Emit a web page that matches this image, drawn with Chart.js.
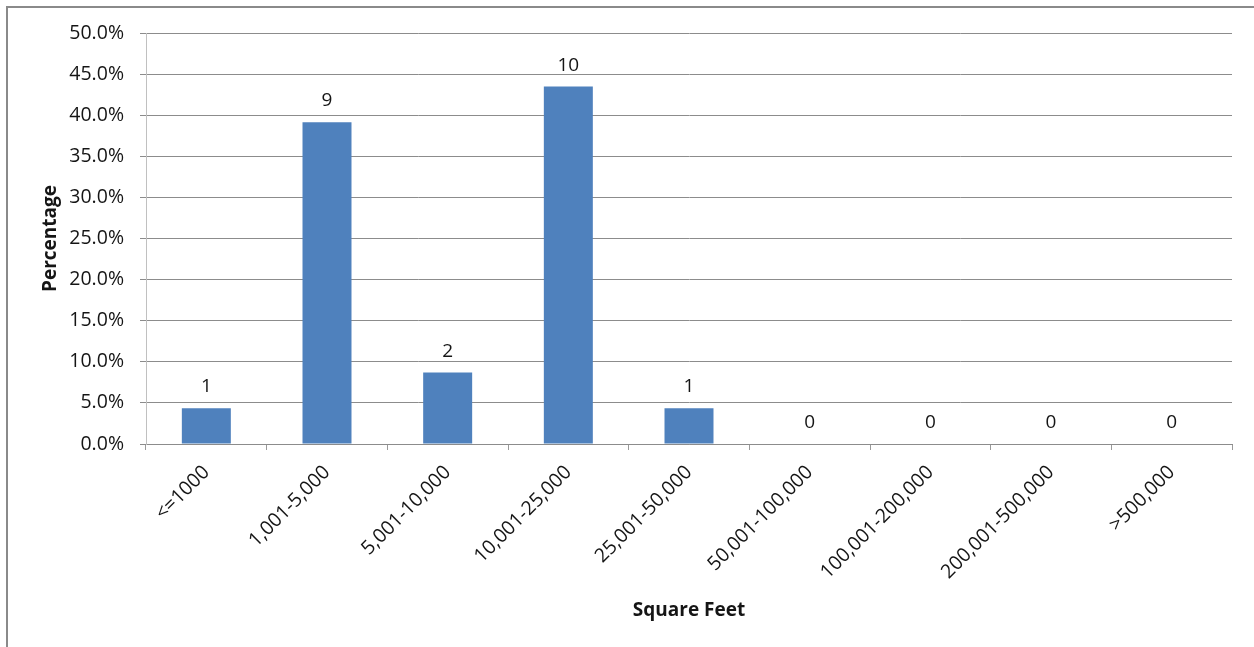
<!DOCTYPE html>
<html>
<head>
<meta charset="utf-8">
<script src="https://cdn.jsdelivr.net/npm/chart.js@4/dist/chart.umd.min.js"></script>
<style>
  html, body { margin: 0; padding: 0; background: #fff; overflow: hidden; }
  #frame {
    position: absolute; left: 6px; top: 6px; width: 1300px; height: 700px;
    border-left: 2px solid #8a8a8a; border-top: 2px solid #8a8a8a;
  }
  #wrap { position: absolute; left: 0; top: 0; width: 1254px; height: 647px; }
</style>
</head>
<body>
<div id="frame"></div>
<div id="wrap"><canvas id="chart" width="1254" height="647"></canvas></div>
<script>
// Size bands (square feet) and the number of facilities in each band
const categories = ['<=1000', '1,001-5,000', '5,001-10,000', '10,001-25,000', '25,001-50,000',
                    '50,001-100,000', '100,001-200,000', '200,001-500,000', '>500,000'];
const counts = [1, 9, 2, 10, 1, 0, 0, 0, 0];
const yTicks = [0, 0.05, 0.10, 0.15, 0.20, 0.25, 0.30, 0.35, 0.40, 0.45, 0.50];

// Share of the total for each band
const total = counts.reduce((a, b) => a + b, 0);
const shares = counts.map(c => c / total);

const FONT = "'Open Sans', 'Liberation Sans', sans-serif";
const TEXT = '#151515';

// Writes the count above each bar
const countLabels = {
  id: 'countLabels',
  afterDatasetsDraw(chart) {
    const ctx = chart.ctx;
    const meta = chart.getDatasetMeta(0);
    ctx.save();
    ctx.font = '19px ' + FONT;
    ctx.fillStyle = TEXT;
    ctx.textAlign = 'center';
    ctx.textBaseline = 'alphabetic';
    meta.data.forEach((bar, i) => {
      ctx.fillText(String(counts[i]), bar.x, bar.y - 16);
    });
    ctx.restore();
  }
};

new Chart(document.getElementById('chart'), {
  type: 'bar',
  data: {
    labels: categories,
    datasets: [{
      data: shares,
      backgroundColor: '#4f81bd',
      borderWidth: 0,
      categoryPercentage: 1,
      barPercentage: 0.406
    }]
  },
  options: {
    responsive: false,
    animation: false,
    events: [],
    layout: { padding: { left: 0, right: 22, top: 33, bottom: 0 } },
    plugins: { legend: { display: false }, tooltip: { enabled: false } },
    scales: {
      x: {
        afterFit(scale) { scale.height = 203; },
        grid: {
          display: true, offset: true, drawOnChartArea: false,
          drawTicks: true, tickLength: 6, color: '#9a9a9a'
        },
        border: { display: true, color: '#8c8c8c', width: 1 },
        ticks: {
          minRotation: 45, maxRotation: 45, autoSkip: false, padding: 11,
          color: TEXT, font: { family: FONT, size: 19.5 }
        },
        title: {
          display: true, text: 'Square Feet', color: TEXT,
          font: { family: FONT, size: 19, weight: 'bold' },
          padding: { top: 0, bottom: 25 }
        }
      },
      y: {
        min: 0, max: 0.5,
        afterFit(scale) { scale.width = 146; },
        afterBuildTicks(scale) { scale.ticks = yTicks.map(v => ({ value: v })); },
        grid: { color: '#8c8c8c', lineWidth: 1, drawTicks: true, tickLength: 6 },
        border: { display: true, color: '#c0c0c0', width: 1 },
        ticks: {
          padding: 16, color: TEXT, font: { family: FONT, size: 19.5 },
          callback: v => (v * 100).toFixed(1) + '%'
        },
        title: {
          display: true, text: 'Percentage', color: TEXT,
          font: { family: FONT, size: 19, weight: 'bold' },
          padding: { top: 39, bottom: 0 }
        }
      }
    }
  },
  plugins: [countLabels]
});
</script>
</body>
</html>
